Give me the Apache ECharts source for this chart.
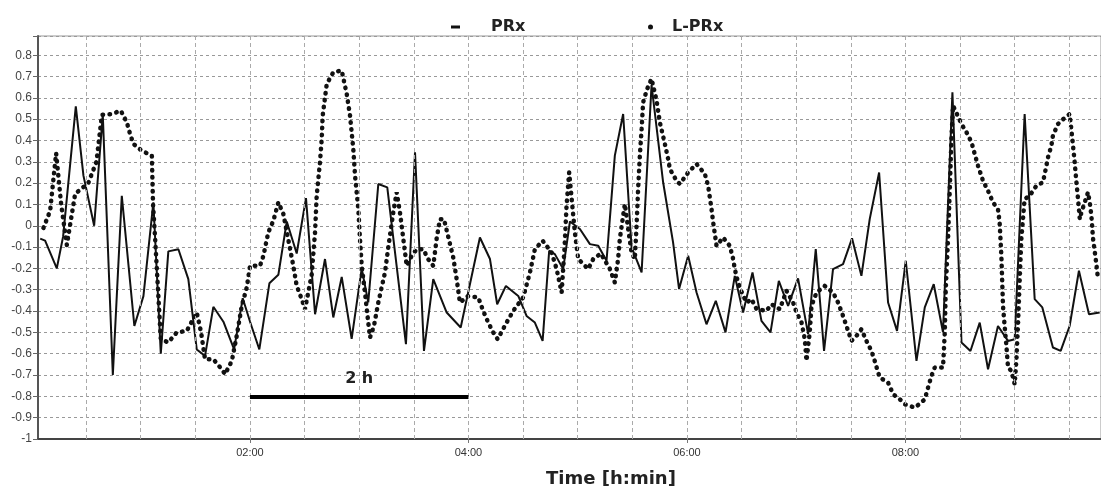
<!DOCTYPE html>
<html>
<head>
<meta charset="utf-8">
<script src="https://cdn.jsdelivr.net/npm/echarts@6/dist/echarts.min.js"></script>
<style>
html,body{margin:0;padding:0;background:#fff;}
#c{width:1101px;height:491px;}
</style>
</head>
<body>
<div id="c"></div>
<script>
// time in hours, values of the index
const prxTime = [0.080,0.125,0.232,0.290,0.406,0.476,0.574,0.653,0.745,0.827,0.942,1.025,1.116,1.184,1.253,1.345,1.436,1.513,1.589,1.665,1.757,1.855,1.934,2.001,2.086,2.178,2.260,2.337,2.428,2.513,2.596,2.687,2.763,2.840,2.931,3.023,3.083,3.175,3.257,3.428,3.511,3.593,3.678,3.801,3.929,4.105,4.197,4.263,4.343,4.456,4.532,4.608,4.679,4.739,4.791,4.867,4.929,5.020,5.112,5.188,5.264,5.340,5.416,5.493,5.585,5.676,5.782,5.873,5.928,6.011,6.088,6.179,6.264,6.353,6.438,6.514,6.600,6.682,6.765,6.841,6.926,7.017,7.109,7.179,7.255,7.337,7.429,7.511,7.597,7.673,7.759,7.841,7.923,8.003,8.101,8.177,8.259,8.344,8.430,8.513,8.595,8.680,8.756,8.847,8.939,9.000,9.091,9.183,9.253,9.350,9.421,9.503,9.588,9.680,9.778];
const prxValue = [-0.06,-0.07,-0.20,-0.05,0.56,0.235,0.0,0.52,-0.70,0.14,-0.47,-0.33,0.11,-0.60,-0.12,-0.11,-0.25,-0.58,-0.61,-0.38,-0.45,-0.58,-0.34,-0.45,-0.58,-0.27,-0.23,0.02,-0.13,0.13,-0.415,-0.156,-0.43,-0.24,-0.53,-0.20,-0.36,0.196,0.18,-0.555,0.345,-0.587,-0.25,-0.407,-0.477,-0.055,-0.156,-0.368,-0.282,-0.329,-0.423,-0.454,-0.54,-0.117,-0.133,-0.203,0.02,-0.015,-0.086,-0.094,-0.164,0.329,0.524,-0.10,-0.219,0.66,0.204,-0.078,-0.297,-0.141,-0.313,-0.462,-0.352,-0.5,-0.235,-0.407,-0.219,-0.446,-0.5,-0.258,-0.376,-0.247,-0.508,-0.109,-0.587,-0.203,-0.18,-0.059,-0.235,0.031,0.25,-0.36,-0.493,-0.164,-0.634,-0.383,-0.274,-0.5,0.626,-0.547,-0.587,-0.454,-0.673,-0.47,-0.54,-0.532,0.524,-0.344,-0.383,-0.571,-0.587,-0.47,-0.211,-0.415,-0.407];

const lprxTime = [0.110,0.171,0.226,0.272,0.324,0.400,0.520,0.595,0.645,0.736,0.818,0.873,0.903,0.933,1.010,1.102,1.113,1.132,1.184,1.253,1.330,1.422,1.513,1.553,1.589,1.665,1.742,1.772,1.834,1.879,1.925,1.971,2.001,2.092,2.123,2.168,2.214,2.260,2.306,2.397,2.428,2.474,2.504,2.565,2.596,2.611,2.641,2.657,2.666,2.703,2.763,2.840,2.886,2.916,2.946,2.962,2.992,3.007,3.023,3.053,3.083,3.099,3.135,3.175,3.236,3.266,3.312,3.343,3.373,3.404,3.435,3.480,3.526,3.586,3.632,3.678,3.709,3.739,3.776,3.861,3.892,3.922,3.995,4.090,4.135,4.181,4.227,4.267,4.349,4.410,4.501,4.563,4.608,4.679,4.761,4.807,4.853,4.880,4.898,4.922,4.974,5.005,5.096,5.142,5.212,5.295,5.340,5.370,5.386,5.416,5.432,5.462,5.493,5.523,5.539,5.553,5.569,5.585,5.599,5.636,5.676,5.722,5.752,5.798,5.828,5.844,5.905,5.935,6.011,6.088,6.164,6.194,6.225,6.240,6.271,6.331,6.392,6.423,6.438,6.468,6.508,6.545,6.591,6.637,6.728,6.773,6.850,6.911,6.972,7.003,7.049,7.079,7.094,7.124,7.140,7.186,7.261,7.337,7.383,7.429,7.460,7.506,7.566,7.597,7.643,7.689,7.719,7.750,7.765,7.841,7.887,7.933,7.995,8.087,8.177,8.207,8.238,8.268,8.344,8.360,8.369,8.390,8.406,8.421,8.436,8.513,8.559,8.605,8.634,8.664,8.710,8.756,8.801,8.847,8.862,8.878,8.893,8.908,8.924,8.939,8.970,9.000,9.016,9.031,9.046,9.061,9.091,9.137,9.168,9.199,9.259,9.284,9.305,9.336,9.350,9.396,9.427,9.503,9.528,9.549,9.565,9.580,9.596,9.611,9.641,9.671,9.687,9.702,9.717,9.742,9.763];
const lprxValue = [-0.01,0.07,0.34,0.10,-0.09,0.15,0.20,0.30,0.52,0.524,0.54,0.485,0.43,0.384,0.352,0.329,0.10,-0.06,-0.532,-0.547,-0.5,-0.493,-0.407,-0.5,-0.626,-0.626,-0.673,-0.696,-0.634,-0.516,-0.376,-0.289,-0.188,-0.188,-0.141,-0.031,0.023,0.11,0.055,-0.188,-0.282,-0.344,-0.391,-0.23,-0.03,0.141,0.298,0.407,0.517,0.665,0.72,0.728,0.618,0.517,0.36,0.235,0.078,-0.06,-0.188,-0.313,-0.454,-0.524,-0.47,-0.36,-0.219,-0.102,0.063,0.157,0.063,-0.062,-0.188,-0.141,-0.11,-0.11,-0.157,-0.188,-0.06,0.031,0.031,-0.149,-0.25,-0.36,-0.33,-0.336,-0.399,-0.454,-0.5,-0.532,-0.454,-0.399,-0.336,-0.219,-0.11,-0.07,-0.125,-0.203,-0.313,-0.10,0.094,0.25,-0.031,-0.156,-0.203,-0.156,-0.13,-0.203,-0.266,-0.156,-0.06,0.047,0.102,-0.015,-0.125,-0.156,0.0,0.172,0.329,0.454,0.579,0.642,0.689,0.587,0.485,0.384,0.313,0.266,0.211,0.196,0.25,0.29,0.243,0.188,0.078,0.016,-0.094,-0.055,-0.094,-0.156,-0.203,-0.266,-0.32,-0.36,-0.344,-0.391,-0.399,-0.368,-0.391,-0.305,-0.36,-0.407,-0.454,-0.532,-0.634,-0.5,-0.376,-0.313,-0.282,-0.313,-0.36,-0.423,-0.47,-0.54,-0.508,-0.485,-0.54,-0.587,-0.634,-0.688,-0.712,-0.735,-0.79,-0.806,-0.837,-0.853,-0.814,-0.759,-0.704,-0.665,-0.665,-0.5,-0.297,-0.06,0.172,0.407,0.563,0.477,0.438,0.391,0.337,0.282,0.211,0.164,0.11,0.078,0.016,-0.141,-0.376,-0.47,-0.563,-0.665,-0.681,-0.743,-0.626,-0.454,-0.25,-0.06,0.125,0.141,0.164,0.188,0.204,0.266,0.321,0.376,0.423,0.477,0.493,0.524,0.407,0.298,0.204,0.125,0.031,0.063,0.11,0.157,0.11,0.047,-0.06,-0.157,-0.25];

const seriesNames = ['PRx', 'L-PRx'];
const xTickValues = [2, 4, 6, 8];
const xTickLabels = ['02:00', '04:00', '06:00', '08:00'];
const xGridHours = [0.5,1,1.5,2,2.5,3,3.5,4,4.5,5,5.5,6,6.5,7,7.5,8,8.5,9,9.5];
const xRange = [0.06, 9.79];
const yRange = [-1, 0.89];
const scaleBar = { from: 2, to: 4, level: -0.8, text: '2 h' };
const axisTitle = 'Time [h:min]';

function pairs(t, v) { return t.map((x, i) => [x, v[i]]); }
function isTenth(v) { return Math.abs(v * 10 - Math.round(v * 10)) < 1e-6; }

const chart = echarts.init(document.getElementById('c'), null, { renderer: 'canvas' });
chart.setOption({
  animation: false,
  backgroundColor: '#fff',
  textStyle: { fontFamily: 'Liberation Sans, Arial, sans-serif' },
  title: {
    text: axisTitle, left: 541, top: 465,
    textStyle: { fontFamily: 'DejaVu Sans, sans-serif', fontSize: 18, fontWeight: 'bold', color: '#222' }
  },
  legend: [
    {
      data: [{ name: seriesNames[0], icon: 'rect' }],
      left: 446, top: 14, itemWidth: 9, itemHeight: 3,
      textStyle: { fontFamily: 'DejaVu Sans, sans-serif', fontSize: 16, fontWeight: 'bold', color: '#222', padding: [0, 0, 0, 26] }
    },
    {
      data: [{ name: seriesNames[1], icon: 'circle' }],
      left: 643, top: 14, itemWidth: 5, itemHeight: 5,
      textStyle: { fontFamily: 'DejaVu Sans, sans-serif', fontSize: 16, fontWeight: 'bold', color: '#222', padding: [0, 0, 0, 14] }
    }
  ],
  grid: { left: 38, right: 0, top: 36, bottom: 52, show: true, borderColor: '#999', borderWidth: 1 },
  xAxis: {
    type: 'value', min: xRange[0], max: xRange[1],
    axisLine: { show: true, onZero: false, lineStyle: { color: '#444', width: 2 } },
    axisTick: { show: true, customValues: xTickValues, length: 4, lineStyle: { color: '#777' } },
    axisLabel: {
      customValues: xTickValues, margin: 8, fontSize: 11, color: '#333',
      fontFamily: 'Liberation Sans Narrow, Arial Narrow, Liberation Sans, sans-serif',
      formatter: function (v) {
        const i = xTickValues.findIndex(t => Math.abs(t - v) < 1e-6);
        return i >= 0 ? xTickLabels[i] : '';
      }
    },
    splitLine: { show: false }
  },
  yAxis: {
    type: 'value', min: yRange[0], max: yRange[1], interval: 0.1,
    axisLine: { show: true, onZero: false, lineStyle: { color: '#555', width: 2 } },
    axisTick: { show: true, length: 5, lineStyle: { color: '#666' } },
    axisLabel: {
      margin: 6, fontSize: 12, color: '#444',
      formatter: function (v) { return isTenth(v) ? String(Math.round(v * 10) / 10) : ''; }
    },
    splitLine: { show: true, lineStyle: { color: '#999', width: 1, type: [3, 3] } }
  },
  series: [
    {
      name: '__grid', type: 'line', data: [], z: 1, silent: true,
      markLine: {
        silent: true, symbol: 'none', animation: false,
        label: { show: false },
        lineStyle: { color: '#aaa', width: 1, type: [4, 3] },
        data: xGridHours.map(h => ({ xAxis: h }))
      }
    },
    {
      name: seriesNames[0], type: 'line', z: 4,
      data: pairs(prxTime, prxValue),
      showSymbol: false, symbol: 'none',
      color: '#111',
      lineStyle: { color: '#111', width: 2 }
    },
    {
      name: seriesNames[1], type: 'line', z: 3,
      data: pairs(lprxTime, lprxValue),
      showSymbol: false, symbol: 'none',
      color: '#111',
      lineStyle: { color: '#111', width: 4.5, type: [0.5, 6.5], cap: 'round' }
    },
    {
      name: '__bar', type: 'line', data: [], z: 5, silent: true,
      markLine: {
        silent: true, symbol: 'none', animation: false,
        lineStyle: { color: '#000', width: 4, type: 'solid', cap: 'butt' },
        label: {
          show: true, position: 'insideMiddleTop', distance: 10,
          formatter: scaleBar.text, color: '#222', fontSize: 16, fontWeight: 'bold',
          fontFamily: 'DejaVu Sans, sans-serif'
        },
        data: [[{ coord: [scaleBar.from, scaleBar.level] }, { coord: [scaleBar.to, scaleBar.level] }]]
      }
    }
  ]
});
</script>
</body>
</html>
